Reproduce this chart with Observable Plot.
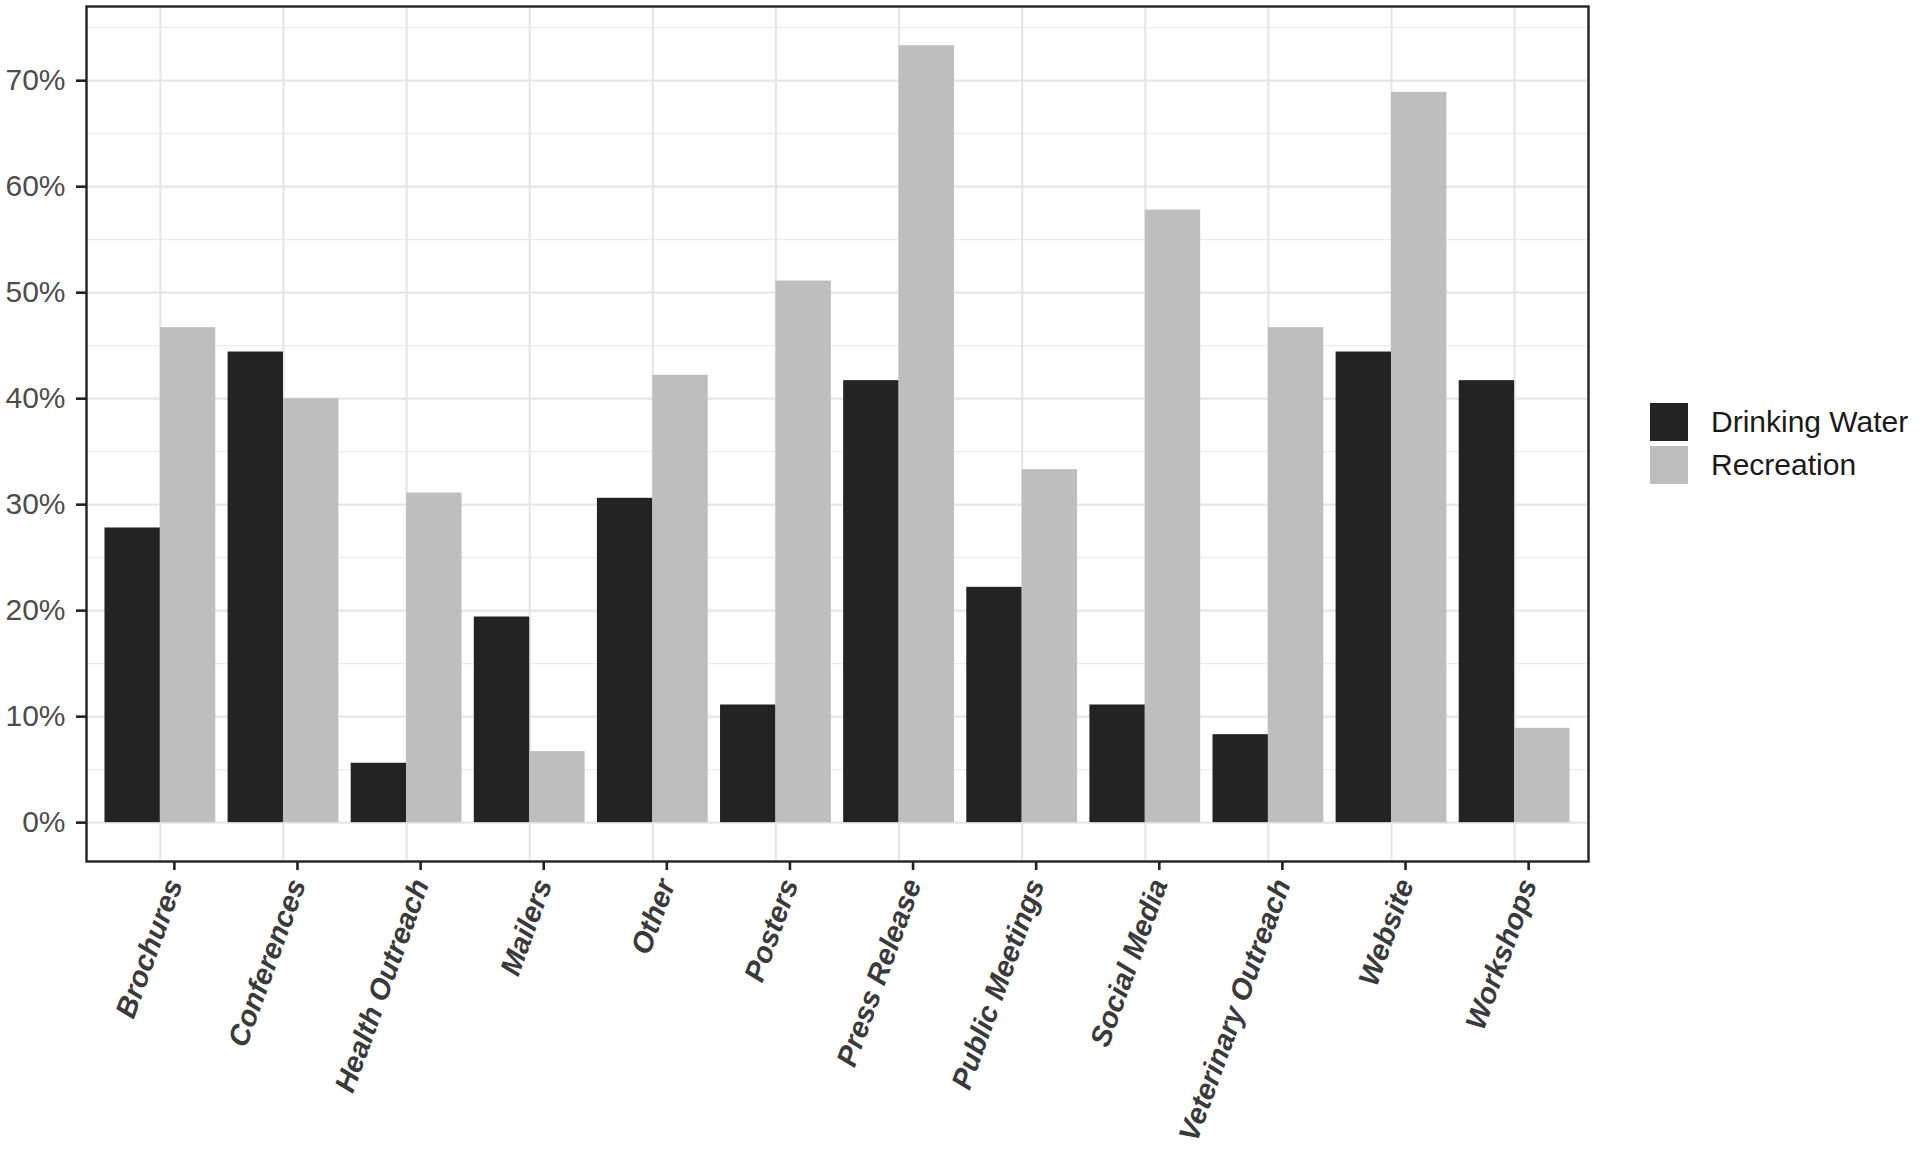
<!DOCTYPE html>
<html>
<head>
<meta charset="utf-8">
<script src="https://cdn.jsdelivr.net/npm/d3@7"></script>
<script src="https://cdn.jsdelivr.net/npm/@observablehq/plot@0.6"></script>
<style>
  html, body { margin: 0; padding: 0; background: #fff; }
  #wrap { position: relative; width: 1920px; height: 1154px; }
  #legend { position: absolute; left: 1650px; top: 403px; font-family: "Liberation Sans", Arial, sans-serif; font-size: 30px; color: #1a1a1a; }
  .item { display: flex; align-items: center; height: 38px; margin-bottom: 5px; }
  .key { width: 38px; height: 38px; margin-right: 23px; }
</style>
</head>
<body>
<div id="wrap"><div id="legend"></div></div>
<script>
const categories = ["Brochures", "Conferences", "Health Outreach", "Mailers", "Other", "Posters",
  "Press Release", "Public Meetings", "Social Media", "Veterinary Outreach", "Website", "Workshops"];
const drinkingWater = [27.8, 44.4, 5.6, 19.4, 30.6, 11.1, 41.7, 22.2, 11.1, 8.3, 44.4, 41.7];
const recreation    = [46.7, 40.0, 31.1, 6.7, 42.2, 51.1, 73.3, 33.3, 57.8, 46.7, 68.9, 8.9];
const series = ["Drinking Water", "Recreation"];
const colors = ["#232323", "#BEBEBE"];
const yTicks = [0, 10, 20, 30, 40, 50, 60, 70];
const yMinorTicks = [5, 15, 25, 35, 45, 55, 65, 75];

const half = 0.45; // dodge width per bar (ggplot 0.9 / 2)
const data = [];
categories.forEach((c, i) => {
  data.push({category: c, i, series: series[0], value: drinkingWater[i], x1: i - half, x2: i});
  data.push({category: c, i, series: series[1], value: recreation[i], x1: i, x2: i + half});
});
const idx = categories.map((c, i) => i);

const chart = Plot.plot({
  width: 1920,
  height: 1154,
  marginLeft: 86,
  marginRight: 332,
  marginTop: 6,
  marginBottom: 293,
  style: {fontFamily: "Liberation Sans, Arial, sans-serif", fontSize: "30px", background: "white"},
  x: {domain: [-0.6, categories.length - 1 + 0.6], axis: null},
  y: {domain: [-3.667, 77.0], axis: null},
  color: {domain: series, range: colors},
  marks: [
    Plot.gridY(yMinorTicks, {stroke: "#EBEBEB", strokeOpacity: 1, strokeWidth: 1.3}),
    Plot.gridY(yTicks, {stroke: "#E6E6E6", strokeOpacity: 1, strokeWidth: 2.2}),
    Plot.gridX(idx, {stroke: "#E6E6E6", strokeOpacity: 1, strokeWidth: 2.2}),
    Plot.rectY(data, {x1: "x1", x2: "x2", y: "value", fill: "series"}),
    Plot.frame({stroke: "#222", strokeWidth: 2.4}),
    Plot.axisY(yTicks, {label: null, tickFormat: d => d + "%", tickSize: 10, tickPadding: 11,
      fontSize: 30, fill: "#4D4D4D", stroke: "#222", strokeWidth: 2.6}),
    Plot.axisX(idx, {label: null, tickFormat: i => categories[i], tickRotate: -70, tickSize: 9, tickPadding: 10,
      dx: 14, fontSize: 29, fontWeight: "bold", fontStyle: "italic", fill: "#3a3a3a", stroke: "#222", strokeWidth: 2.6})
  ]
});
document.getElementById("wrap").prepend(chart);

const legend = document.getElementById("legend");
series.forEach((s, k) => {
  const item = document.createElement("div");
  item.className = "item";
  const key = document.createElement("div");
  key.className = "key";
  key.style.background = colors[k];
  const label = document.createElement("span");
  label.textContent = s;
  item.append(key, label);
  legend.append(item);
});
</script>
</body>
</html>
